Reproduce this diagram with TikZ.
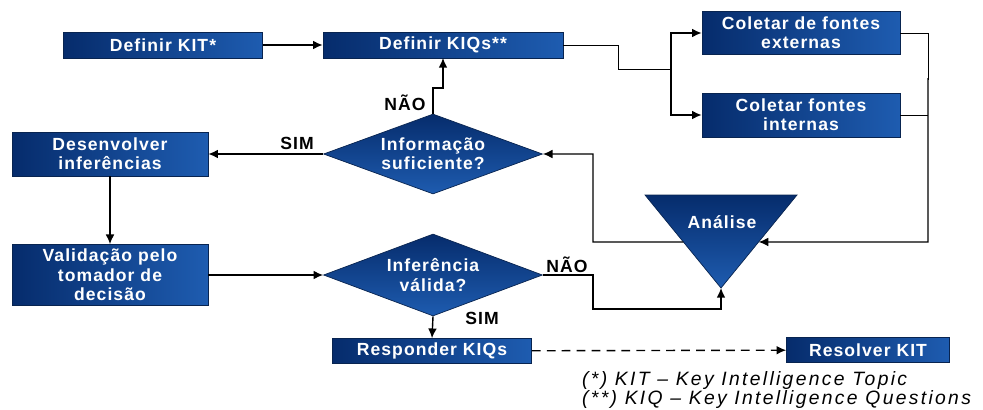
\documentclass[tikz,border=0pt]{standalone}
\usepackage{fontspec}
\setmainfont{Liberation Sans}
\newfontfamily\boxfont[LetterSpace=6]{Liberation Sans}
\newfontfamily\notefont[LetterSpace=12]{Liberation Sans}
\usepackage{tikz}
\usetikzlibrary{shapes.geometric, arrows, arrows.meta, calc}
\definecolor{navydark}{RGB}{6,44,108}
\definecolor{navylight}{RGB}{30,92,176}
\definecolor{navyline}{RGB}{8,36,80}
\tikzstyle{box} = [rectangle, draw=navyline, left color=navydark, right color=navylight, text=white, font=\boxfont\fontsize{10}{11}\selectfont\bfseries, align=center, inner sep=1pt]
\tikzstyle{decision} = [diamond, aspect=2.74, draw=navyline, top color=navydark, bottom color=navylight, text=white, font=\boxfont\fontsize{10}{11}\selectfont\bfseries, align=center, inner sep=0pt, minimum width=4.38cm, minimum height=1.6cm]
\tikzstyle{lbl} = [font=\boxfont\fontsize{10}{11}\selectfont\bfseries]
\tikzstyle{arrow} = [line width=0.8pt,-{Latex[length=5.5pt,width=5pt]}]
\tikzstyle{line} = [line width=0.8pt]
\tikzstyle{thinline} = [line width=0.55pt]
\tikzstyle{note} = [anchor=west, font=\notefont\fontsize{11}{12}\selectfont\itshape]

\begin{document}
\begin{tikzpicture}[x=0.02cm, y=-0.02cm]
        \useasboundingbox (0,0) rectangle (983,409);

        % Top row
        \node (kit) [box, minimum width=3.98cm, minimum height=0.52cm] at (163,45) {Definir KIT*};
        \node (kiqs) [box, minimum width=4.8cm, minimum height=0.52cm] at (443,45) {Definir KIQs**};

        % Sources
        \node (ext) [box, minimum width=3.96cm, minimum height=0.86cm] at (801,33) {Coletar de fontes\\externas};
        \node (int) [box, minimum width=3.96cm, minimum height=0.88cm] at (801,115) {Coletar fontes\\internas};

        % Decisions
        \node (info) [decision] at (433,154) {Informação\\suficiente?};
        \node (infer) [decision, minimum height=1.64cm] at (433,275) {Inferência\\válida?};

        % Left column
        \node (desenv) [box, minimum width=3.92cm, minimum height=0.88cm] at (110,154) {Desenvolver\\inferências};
        \node (valid) [box, minimum width=3.92cm, minimum height=1.22cm] at (110,275) {Validação pelo\\tomador de\\decisão};

        % Bottom row
        \node (resp) [box, minimum width=3.98cm, minimum height=0.5cm] at (432,351) {Responder KIQs};
        \node (resolver) [box, minimum width=3.26cm, minimum height=0.5cm] at (868,350) {Resolver KIT};

        % Analise (triangle)
        \shadedraw[draw=navyline, top color=navydark, bottom color=navylight] (645,195) coordinate (triL) -- (797,195) coordinate (triR) -- (721,288) coordinate (apex) -- cycle;
        \node (analise) [lbl, text=white] at (722,222) {Análise};
        \coordinate (anR) at ($(triR)!0.505!(apex)$);
        \coordinate (anL) at ($(triL)!0.505!(apex)$);

        % Arrows
        \draw [arrow] (kit) -- (kiqs);
        \coordinate (split) at (671,69);
        \draw [thinline] (kiqs.east) -| (618,69) -- (split);
        \draw [arrow] (split) |- (ext.west);
        \draw [arrow] (split) |- (int.west);

        \coordinate (collect) at (928,242);
        \draw [thinline] (ext.east) -| (928,80);
        \draw [arrow] (928,78) -- (collect) -- (anR);
        \draw [thinline] (int.east) -- (int.east -| collect);
        \draw [arrow] (anL) -- (593,242) |- (info.east);

        \draw [arrow] (info.north) -- (433,88) -| (443,58);
        \node (nao1) [lbl] at (405,103) {NÃO};
        \draw [arrow] (info.west) -- (info.west -| desenv.east);
        \node (sim1) [lbl] at (297,143) {SIM};

        \draw [arrow] (desenv) -- (valid);
        \draw [arrow] (valid) -- (infer);

        \draw [arrow] (infer.east) -- (593,275) |- (721,309) -- (apex);
        \node (nao2) [lbl] at (567,265) {NÃO};
        \draw [arrow] (infer.south) -- (resp.north);
        \node (sim2) [lbl] at (482,318) {SIM};

        \draw [arrow, dash pattern=on 5pt off 3.5pt] (resp) -- (resolver);

        % Notes
        \node (note1) [note] at (576,380) {(*) KIT – Key Intelligence Topic};
        \node (note2) [note] at (576,399) {(**) KIQ – Key Intelligence Questions};
    \end{tikzpicture}
\end{document}
